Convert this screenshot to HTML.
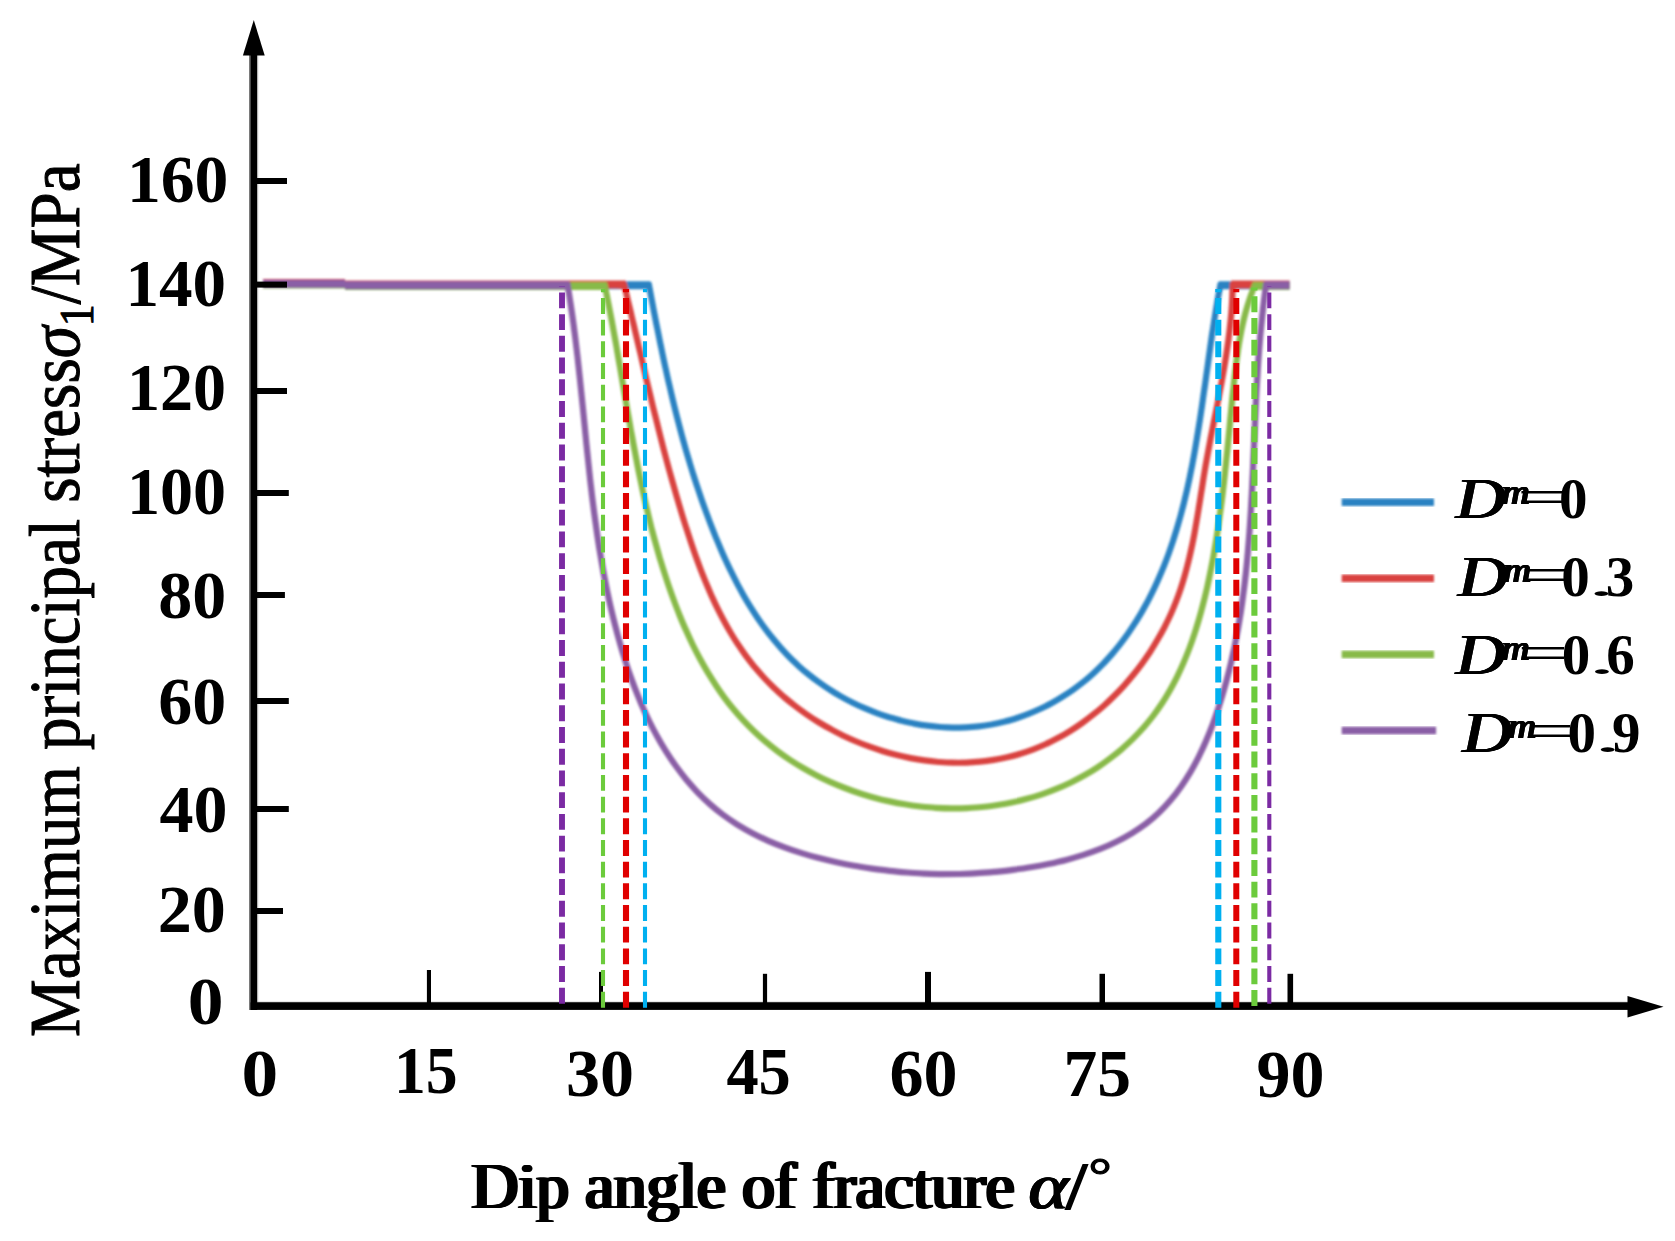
<!DOCTYPE html>
<html lang="en"><head><meta charset="utf-8"><title>Maximum principal stress vs dip angle of fracture</title>
<style>html,body{margin:0;padding:0;background:#fff}body{width:1675px;height:1241px;overflow:hidden}svg{display:block}text{font-family:"Liberation Serif",serif;fill:#000}.tk{font-weight:bold;font-size:68px}.ax{font-size:65px}.lg{font-size:57px}</style></head><body>
<svg width="1675" height="1241" viewBox="0 0 1675 1241">
<defs><filter id="soft" x="-5%" y="-5%" width="110%" height="110%"><feGaussianBlur stdDeviation="1.2"/></filter><filter id="smear" x="-10%" y="-10%" width="120%" height="120%"><feOffset in="SourceGraphic" dx="-1.4" result="a"/><feOffset in="SourceGraphic" dx="-0.7" result="b"/><feOffset in="SourceGraphic" dx="0.7" result="c"/><feOffset in="SourceGraphic" dx="1.4" result="d"/><feMerge><feMergeNode in="a"/><feMergeNode in="b"/><feMergeNode in="SourceGraphic"/><feMergeNode in="c"/><feMergeNode in="d"/></feMerge></filter><filter id="smear2" x="-5%" y="-10%" width="110%" height="120%"><feOffset in="SourceGraphic" dx="-1.9" result="a"/><feOffset in="SourceGraphic" dx="-0.95" result="b"/><feOffset in="SourceGraphic" dx="0.95" result="c"/><feOffset in="SourceGraphic" dx="1.9" result="d"/><feMerge><feMergeNode in="a"/><feMergeNode in="b"/><feMergeNode in="SourceGraphic"/><feMergeNode in="c"/><feMergeNode in="d"/></feMerge></filter></defs>
<rect width="1675" height="1241" fill="#fff"/>
<g fill="none" stroke-linejoin="miter" stroke-miterlimit="6" stroke-linecap="butt" filter="url(#soft)">
<path d="M263 283.7 H345 M345 285.3 H650.5 M1218.8 285.3 H1289.5" stroke="#2a82c2" stroke-width="8"/>
<path d="M643.0 285.3 L649.0 285.3 C649.4 287.4 650.6 293.8 651.4 298.1 C652.2 302.3 653.0 306.6 653.8 310.8 C654.7 315.1 655.5 319.3 656.3 323.6 C657.2 327.8 658.0 332.1 658.9 336.3 C659.7 340.5 660.6 344.8 661.5 349.0 C662.3 353.2 663.2 357.4 664.1 361.6 C665.0 365.9 666.0 370.1 666.9 374.3 C667.8 378.5 668.8 382.7 669.8 386.9 C670.7 391.1 671.7 395.3 672.7 399.5 C673.7 403.7 674.7 407.9 675.8 412.1 C676.8 416.2 677.9 420.4 679.0 424.6 C680.1 428.8 681.2 432.9 682.3 437.1 C683.5 441.3 684.6 445.4 685.8 449.6 C687.0 453.7 688.2 457.9 689.5 462.0 C690.7 466.2 692.0 470.3 693.3 474.5 C694.6 478.6 695.9 482.7 697.3 486.8 C698.7 491.0 700.1 495.1 701.5 499.2 C702.9 503.3 704.4 507.4 705.9 511.5 C707.4 515.6 708.9 519.7 710.5 523.8 C712.1 527.9 713.7 532.0 715.3 536.1 C717.0 540.1 718.7 544.2 720.4 548.2 C722.1 552.3 723.9 556.3 725.7 560.3 C727.6 564.3 729.4 568.2 731.4 572.2 C733.3 576.1 735.3 580.0 737.3 583.9 C739.4 587.8 741.5 591.6 743.6 595.4 C745.8 599.2 748.0 602.9 750.3 606.6 C752.6 610.3 754.9 613.9 757.3 617.5 C759.8 621.1 762.2 624.6 764.8 628.1 C767.3 631.6 770.0 635.0 772.7 638.3 C775.4 641.7 778.2 644.9 781.0 648.1 C783.9 651.3 786.8 654.5 789.8 657.5 C792.9 660.6 796.0 663.5 799.1 666.4 C802.3 669.3 805.6 672.1 809.0 674.8 C812.3 677.5 815.8 680.1 819.3 682.6 C822.8 685.2 826.4 687.6 830.1 689.9 C833.7 692.3 837.5 694.5 841.2 696.6 C845.0 698.8 848.9 700.8 852.8 702.7 C856.7 704.7 860.6 706.5 864.6 708.2 C868.6 709.9 872.7 711.6 876.8 713.1 C880.8 714.6 885.0 716.0 889.1 717.3 C893.3 718.5 897.5 719.7 901.7 720.8 C905.9 721.8 910.1 722.8 914.4 723.6 C918.6 724.4 922.9 725.1 927.2 725.6 C931.5 726.2 935.8 726.7 940.1 727.0 C944.4 727.3 948.7 727.5 953.0 727.6 C957.3 727.6 961.6 727.5 965.9 727.3 C970.2 727.1 974.4 726.8 978.7 726.3 C982.9 725.8 987.2 725.2 991.4 724.5 C995.6 723.7 999.8 722.8 1004.0 721.8 C1008.1 720.7 1012.3 719.6 1016.4 718.2 C1020.4 716.9 1024.5 715.5 1028.5 713.9 C1032.5 712.3 1036.5 710.6 1040.4 708.8 C1044.3 707.0 1048.1 705.0 1051.9 703.0 C1055.7 700.9 1059.4 698.7 1063.0 696.4 C1066.7 694.1 1070.3 691.7 1073.8 689.2 C1077.3 686.7 1080.7 684.1 1084.1 681.4 C1087.4 678.7 1090.7 675.8 1093.8 672.9 C1097.0 670.0 1100.1 667.0 1103.1 663.9 C1106.0 660.8 1109.0 657.6 1111.8 654.4 C1114.6 651.1 1117.3 647.8 1120.0 644.4 C1122.6 641.0 1125.2 637.5 1127.7 634.0 C1130.2 630.4 1132.6 626.8 1134.9 623.2 C1137.3 619.5 1139.5 615.8 1141.7 612.1 C1143.8 608.3 1145.9 604.5 1148.0 600.7 C1150.0 596.9 1151.9 593.0 1153.8 589.1 C1155.7 585.2 1157.5 581.3 1159.2 577.3 C1160.9 573.4 1162.6 569.4 1164.2 565.4 C1165.8 561.3 1167.3 557.3 1168.8 553.2 C1170.2 549.2 1171.6 545.1 1173.0 541.0 C1174.3 536.8 1175.6 532.7 1176.9 528.5 C1178.1 524.4 1179.3 520.2 1180.5 516.0 C1181.6 511.8 1182.7 507.6 1183.8 503.4 C1184.8 499.2 1185.8 494.9 1186.8 490.7 C1187.8 486.4 1188.7 482.1 1189.6 477.9 C1190.5 473.6 1191.3 469.3 1192.2 465.0 C1193.0 460.7 1193.8 456.4 1194.6 452.0 C1195.3 447.7 1196.1 443.4 1196.8 439.1 C1197.5 434.8 1198.2 430.4 1198.9 426.1 C1199.6 421.8 1200.3 417.4 1200.9 413.1 C1201.6 408.7 1202.2 404.4 1202.8 400.1 C1203.4 395.7 1204.0 391.4 1204.7 387.1 C1205.3 382.8 1205.9 378.4 1206.5 374.1 C1207.1 369.8 1207.7 365.5 1208.3 361.2 C1208.9 356.9 1209.5 352.6 1210.1 348.3 C1210.7 344.1 1211.3 339.8 1211.9 335.5 C1212.6 331.3 1213.2 327.0 1213.9 322.8 C1214.5 318.6 1215.2 314.4 1215.9 310.2 C1216.6 306.0 1217.3 301.8 1218.0 297.7 C1218.8 293.5 1219.9 287.4 1220.3 285.3 L1226.3 285.3" stroke="#2a82c2" stroke-width="6.2"/>
<path d="M263 283.0 H345 M345 284.6 H625.8 M1231.2 284.6 H1289.5" stroke="#d94340" stroke-width="8"/>
<path d="M618.3 285.3 L624.3 285.3 C624.9 287.6 626.5 294.5 627.6 299.1 C628.7 303.6 629.8 308.2 630.9 312.8 C631.9 317.4 633.0 321.9 634.1 326.5 C635.1 331.1 636.2 335.6 637.3 340.2 C638.3 344.7 639.4 349.3 640.5 353.8 C641.5 358.3 642.6 362.9 643.6 367.4 C644.7 371.9 645.8 376.5 646.8 381.0 C647.9 385.5 649.0 390.1 650.1 394.6 C651.2 399.1 652.2 403.6 653.3 408.1 C654.4 412.6 655.6 417.1 656.7 421.6 C657.8 426.2 658.9 430.7 660.1 435.2 C661.2 439.7 662.4 444.2 663.5 448.7 C664.7 453.2 665.9 457.7 667.1 462.2 C668.3 466.7 669.5 471.2 670.8 475.6 C672.0 480.1 673.3 484.6 674.6 489.1 C675.8 493.6 677.2 498.1 678.5 502.6 C679.8 507.1 681.2 511.6 682.5 516.1 C683.9 520.6 685.3 525.1 686.8 529.6 C688.2 534.0 689.7 538.5 691.2 543.0 C692.7 547.5 694.2 551.9 695.8 556.4 C697.4 560.8 699.0 565.2 700.7 569.6 C702.4 574.0 704.2 578.4 706.0 582.8 C707.8 587.1 709.6 591.4 711.5 595.7 C713.5 600.0 715.4 604.2 717.5 608.4 C719.6 612.6 721.7 616.7 723.9 620.8 C726.1 624.9 728.4 629.0 730.8 633.0 C733.1 636.9 735.6 640.9 738.2 644.7 C740.7 648.6 743.4 652.4 746.1 656.1 C748.9 659.8 751.7 663.5 754.6 667.1 C757.6 670.6 760.7 674.1 763.8 677.5 C767.0 681.0 770.3 684.3 773.6 687.5 C777.0 690.8 780.5 693.9 784.0 697.0 C787.6 700.0 791.3 703.0 795.0 705.9 C798.7 708.8 802.5 711.5 806.4 714.2 C810.3 716.9 814.3 719.5 818.3 722.0 C822.4 724.5 826.5 726.9 830.7 729.1 C834.8 731.4 839.1 733.6 843.3 735.7 C847.6 737.7 852.0 739.7 856.3 741.5 C860.7 743.4 865.1 745.1 869.6 746.7 C874.1 748.3 878.6 749.8 883.1 751.2 C887.6 752.6 892.2 753.9 896.8 755.0 C901.4 756.2 906.0 757.2 910.6 758.1 C915.2 759.0 919.8 759.8 924.5 760.4 C929.1 761.1 933.8 761.6 938.4 762.0 C943.1 762.3 947.7 762.6 952.4 762.7 C957.0 762.8 961.6 762.8 966.3 762.6 C970.9 762.5 975.5 762.2 980.1 761.7 C984.6 761.3 989.2 760.7 993.7 759.9 C998.2 759.2 1002.7 758.3 1007.2 757.3 C1011.6 756.3 1016.1 755.1 1020.4 753.7 C1024.8 752.4 1029.1 750.9 1033.4 749.3 C1037.7 747.7 1041.9 745.9 1046.1 744.0 C1050.2 742.0 1054.4 740.0 1058.4 737.8 C1062.5 735.6 1066.5 733.3 1070.4 730.8 C1074.3 728.4 1078.2 725.8 1082.0 723.1 C1085.8 720.4 1089.5 717.6 1093.1 714.7 C1096.8 711.8 1100.4 708.8 1103.9 705.7 C1107.4 702.6 1110.8 699.3 1114.1 696.0 C1117.5 692.7 1120.7 689.3 1123.9 685.8 C1127.0 682.3 1130.1 678.7 1133.1 675.0 C1136.1 671.4 1139.0 667.6 1141.8 663.8 C1144.6 660.0 1147.3 656.1 1149.9 652.2 C1152.5 648.2 1155.0 644.2 1157.3 640.1 C1159.7 636.0 1162.0 631.9 1164.2 627.7 C1166.3 623.5 1168.4 619.3 1170.4 615.0 C1172.3 610.8 1174.1 606.4 1175.8 602.1 C1177.5 597.7 1179.1 593.4 1180.6 588.9 C1182.1 584.5 1183.4 580.1 1184.7 575.6 C1186.0 571.1 1187.2 566.6 1188.3 562.1 C1189.4 557.6 1190.4 553.1 1191.4 548.5 C1192.4 544.0 1193.3 539.4 1194.2 534.8 C1195.0 530.2 1195.8 525.6 1196.6 521.0 C1197.4 516.4 1198.2 511.8 1198.9 507.1 C1199.7 502.5 1200.4 497.9 1201.1 493.3 C1201.9 488.6 1202.6 484.0 1203.3 479.4 C1204.1 474.7 1204.8 470.1 1205.6 465.5 C1206.4 460.9 1207.3 456.3 1208.1 451.7 C1209.0 447.1 1209.9 442.5 1210.7 437.9 C1211.6 433.3 1212.5 428.7 1213.4 424.1 C1214.3 419.5 1215.3 414.9 1216.2 410.4 C1217.1 405.8 1218.0 401.2 1218.9 396.6 C1219.7 392.0 1220.6 387.4 1221.5 382.8 C1222.3 378.2 1223.1 373.7 1223.9 369.1 C1224.7 364.5 1225.5 359.8 1226.2 355.2 C1226.9 350.6 1227.6 346.0 1228.2 341.4 C1228.8 336.7 1229.4 332.1 1229.9 327.5 C1230.4 322.8 1230.9 318.2 1231.3 313.5 C1231.7 308.8 1232.0 304.1 1232.2 299.4 C1232.5 294.7 1232.6 287.7 1232.7 285.3 L1238.7 285.3" stroke="#d94340" stroke-width="6.2"/>
<path d="M263 284.5 H345 M345 286.1 H606.2 M1253.2 286.1 H1289.5" stroke="#88ba48" stroke-width="8"/>
<path d="M598.7 285.3 L604.7 285.3 C605.2 287.8 606.8 295.5 607.8 300.5 C608.8 305.6 609.8 310.7 610.8 315.8 C611.8 320.8 612.7 325.9 613.6 331.0 C614.5 336.0 615.5 341.1 616.4 346.2 C617.2 351.2 618.1 356.3 619.0 361.4 C619.9 366.4 620.8 371.5 621.6 376.5 C622.5 381.6 623.3 386.7 624.2 391.7 C625.1 396.8 625.9 401.8 626.8 406.9 C627.7 411.9 628.6 417.0 629.5 422.0 C630.3 427.0 631.2 432.1 632.2 437.1 C633.1 442.1 634.0 447.2 635.0 452.2 C635.9 457.2 636.9 462.2 637.9 467.3 C638.9 472.3 639.9 477.3 641.0 482.3 C642.0 487.3 643.1 492.3 644.2 497.3 C645.3 502.3 646.5 507.3 647.7 512.3 C648.8 517.3 650.1 522.3 651.3 527.3 C652.6 532.2 653.9 537.2 655.3 542.2 C656.7 547.2 658.1 552.1 659.5 557.1 C661.0 562.0 662.5 567.0 664.1 571.9 C665.7 576.9 667.3 581.8 669.0 586.8 C670.7 591.7 672.4 596.6 674.3 601.5 C676.1 606.4 678.0 611.2 679.9 616.0 C681.9 620.9 683.9 625.7 686.1 630.4 C688.2 635.1 690.4 639.9 692.6 644.5 C694.9 649.2 697.3 653.8 699.7 658.3 C702.2 662.8 704.7 667.3 707.3 671.7 C710.0 676.1 712.7 680.5 715.5 684.7 C718.3 689.0 721.2 693.2 724.2 697.3 C727.2 701.4 730.4 705.4 733.6 709.3 C736.8 713.2 740.1 717.0 743.6 720.7 C747.0 724.4 750.6 728.0 754.3 731.5 C757.9 735.0 761.7 738.4 765.6 741.7 C769.5 745.0 773.5 748.1 777.6 751.2 C781.7 754.2 785.8 757.1 790.1 760.0 C794.4 762.8 798.7 765.5 803.1 768.0 C807.6 770.6 812.1 773.1 816.7 775.4 C821.2 777.8 825.9 780.0 830.6 782.1 C835.3 784.2 840.1 786.2 844.9 788.0 C849.7 789.9 854.6 791.6 859.5 793.2 C864.5 794.9 869.4 796.3 874.4 797.7 C879.5 799.1 884.5 800.3 889.6 801.4 C894.7 802.5 899.8 803.5 904.9 804.3 C910.0 805.2 915.2 805.9 920.3 806.5 C925.5 807.0 930.7 807.5 935.8 807.8 C941.0 808.1 946.2 808.3 951.4 808.3 C956.5 808.4 961.7 808.3 966.9 808.1 C972.1 807.8 977.2 807.5 982.3 807.0 C987.5 806.5 992.6 805.8 997.7 805.0 C1002.8 804.3 1007.8 803.3 1012.8 802.3 C1017.9 801.2 1022.9 800.0 1027.8 798.6 C1032.7 797.3 1037.6 795.8 1042.5 794.1 C1047.3 792.5 1052.1 790.7 1056.9 788.7 C1061.6 786.8 1066.3 784.7 1070.9 782.5 C1075.5 780.2 1080.0 777.8 1084.5 775.3 C1088.9 772.8 1093.3 770.1 1097.6 767.3 C1101.9 764.5 1106.1 761.5 1110.1 758.4 C1114.2 755.3 1118.2 752.1 1122.1 748.8 C1125.9 745.4 1129.7 742.0 1133.3 738.4 C1136.9 734.8 1140.4 731.1 1143.8 727.3 C1147.1 723.4 1150.4 719.5 1153.4 715.5 C1156.5 711.4 1159.4 707.2 1162.2 703.0 C1165.0 698.8 1167.6 694.4 1170.1 690.0 C1172.7 685.5 1175.0 681.0 1177.3 676.4 C1179.5 671.8 1181.7 667.1 1183.7 662.4 C1185.7 657.7 1187.6 652.9 1189.5 648.0 C1191.3 643.2 1193.0 638.3 1194.6 633.4 C1196.2 628.4 1197.8 623.4 1199.2 618.4 C1200.7 613.4 1202.0 608.4 1203.3 603.3 C1204.6 598.3 1205.8 593.2 1207.0 588.1 C1208.1 583.0 1209.2 577.9 1210.2 572.8 C1211.3 567.7 1212.2 562.7 1213.2 557.6 C1214.1 552.5 1215.0 547.4 1215.8 542.3 C1216.6 537.2 1217.4 532.1 1218.2 527.0 C1218.9 521.9 1219.6 516.8 1220.3 511.7 C1221.0 506.6 1221.6 501.6 1222.3 496.5 C1222.9 491.4 1223.5 486.3 1224.1 481.2 C1224.6 476.1 1225.2 471.0 1225.7 465.9 C1226.2 460.8 1226.8 455.7 1227.3 450.6 C1227.8 445.4 1228.3 440.3 1228.8 435.2 C1229.3 430.1 1229.8 425.0 1230.2 419.9 C1230.7 414.8 1231.2 409.7 1231.7 404.6 C1232.2 399.5 1232.7 394.4 1233.3 389.2 C1233.8 384.1 1234.3 379.0 1234.9 373.9 C1235.5 368.8 1236.1 363.7 1236.8 358.6 C1237.5 353.6 1238.2 348.5 1239.0 343.5 C1239.9 338.5 1240.8 333.5 1241.8 328.5 C1242.8 323.6 1243.9 318.6 1245.2 313.8 C1246.5 308.9 1247.9 304.1 1249.5 299.4 C1251.1 294.6 1253.8 287.6 1254.7 285.3 L1260.7 285.3" stroke="#88ba48" stroke-width="6.2"/>
<path d="M263 283.7 H345 M345 285.3 H569.2 M1264.5 285.3 H1289.5" stroke="#8a5fa6" stroke-width="8"/>
<path d="M561.7 285.3 L567.7 285.3 C568.2 288.3 569.6 297.3 570.5 303.3 C571.4 309.2 572.3 315.2 573.1 321.1 C573.9 327.0 574.6 333.0 575.4 338.8 C576.1 344.7 576.8 350.6 577.5 356.5 C578.1 362.4 578.8 368.2 579.4 374.1 C580.0 379.9 580.6 385.7 581.2 391.5 C581.8 397.4 582.4 403.2 583.0 409.0 C583.6 414.8 584.1 420.6 584.7 426.3 C585.3 432.1 585.8 437.9 586.4 443.7 C587.0 449.5 587.6 455.2 588.2 461.0 C588.8 466.8 589.4 472.6 590.0 478.3 C590.7 484.1 591.4 489.9 592.0 495.6 C592.7 501.4 593.5 507.2 594.2 513.0 C595.0 518.7 595.8 524.5 596.6 530.3 C597.4 536.1 598.3 541.9 599.2 547.7 C600.2 553.5 601.2 559.3 602.2 565.1 C603.2 571.0 604.3 576.8 605.5 582.6 C606.6 588.5 607.8 594.3 609.1 600.2 C610.4 606.1 611.8 612.0 613.2 617.8 C614.7 623.7 616.2 629.6 617.8 635.5 C619.4 641.3 621.1 647.2 622.8 653.0 C624.6 658.8 626.5 664.6 628.4 670.3 C630.4 676.1 632.5 681.8 634.6 687.4 C636.8 693.1 639.1 698.7 641.4 704.2 C643.8 709.7 646.3 715.1 648.9 720.5 C651.5 725.8 654.2 731.1 657.1 736.2 C659.9 741.4 662.9 746.4 666.0 751.4 C669.1 756.3 672.3 761.1 675.7 765.8 C679.1 770.5 682.6 775.1 686.2 779.5 C689.9 783.9 693.7 788.2 697.6 792.3 C701.6 796.4 705.6 800.3 709.9 804.1 C714.2 807.9 718.6 811.5 723.1 814.9 C727.7 818.3 732.4 821.5 737.3 824.6 C742.2 827.6 747.2 830.5 752.4 833.2 C757.5 835.9 762.8 838.4 768.2 840.8 C773.6 843.1 779.1 845.3 784.6 847.4 C790.2 849.5 795.9 851.4 801.6 853.1 C807.3 854.9 813.1 856.6 818.9 858.1 C824.7 859.6 830.6 861.0 836.5 862.2 C842.4 863.5 848.3 864.7 854.2 865.7 C860.1 866.8 866.0 867.7 871.9 868.6 C877.8 869.4 883.7 870.2 889.6 870.8 C895.4 871.5 901.3 872.0 907.2 872.5 C913.0 873.0 918.9 873.3 924.7 873.6 C930.6 873.8 936.4 874.0 942.3 874.1 C948.1 874.1 953.9 874.1 959.8 874.0 C965.7 873.8 971.5 873.6 977.4 873.2 C983.3 872.9 989.1 872.4 995.0 871.9 C1000.9 871.3 1006.8 870.7 1012.8 869.9 C1018.7 869.1 1024.6 868.3 1030.6 867.3 C1036.5 866.3 1042.5 865.2 1048.4 864.0 C1054.4 862.7 1060.3 861.4 1066.1 859.9 C1072.0 858.4 1077.8 856.7 1083.5 854.9 C1089.2 853.0 1094.8 851.0 1100.3 848.9 C1105.8 846.7 1111.2 844.3 1116.4 841.7 C1121.7 839.2 1126.8 836.4 1131.7 833.4 C1136.6 830.4 1141.3 827.2 1145.9 823.8 C1150.4 820.3 1154.7 816.6 1158.8 812.7 C1162.9 808.8 1166.8 804.7 1170.5 800.3 C1174.2 796.0 1177.7 791.4 1181.0 786.7 C1184.3 782.0 1187.4 777.1 1190.4 772.1 C1193.4 767.1 1196.1 761.9 1198.8 756.6 C1201.4 751.3 1203.9 745.9 1206.2 740.5 C1208.6 735.0 1210.8 729.4 1212.9 723.8 C1215.0 718.2 1216.9 712.5 1218.8 706.9 C1220.6 701.2 1222.4 695.5 1224.0 689.7 C1225.7 684.0 1227.2 678.3 1228.6 672.5 C1230.1 666.8 1231.5 661.0 1232.7 655.2 C1234.0 649.5 1235.2 643.7 1236.3 637.9 C1237.4 632.1 1238.5 626.3 1239.4 620.5 C1240.4 614.7 1241.3 608.8 1242.1 603.0 C1242.9 597.2 1243.7 591.3 1244.4 585.5 C1245.1 579.6 1245.8 573.8 1246.4 567.9 C1247.0 562.0 1247.5 556.2 1248.0 550.3 C1248.5 544.4 1249.0 538.5 1249.4 532.6 C1249.9 526.7 1250.2 520.8 1250.6 514.9 C1251.0 509.0 1251.3 503.1 1251.6 497.2 C1252.0 491.3 1252.2 485.4 1252.5 479.5 C1252.8 473.6 1253.1 467.7 1253.3 461.8 C1253.6 455.9 1253.8 450.0 1254.1 444.1 C1254.4 438.2 1254.6 432.2 1254.9 426.3 C1255.1 420.4 1255.4 414.5 1255.7 408.6 C1255.9 402.7 1256.2 396.8 1256.5 390.9 C1256.9 385.0 1257.2 379.1 1257.6 373.2 C1257.9 367.3 1258.3 361.4 1258.7 355.6 C1259.2 349.7 1259.6 343.8 1260.1 337.9 C1260.6 332.1 1261.2 326.2 1261.8 320.3 C1262.4 314.5 1263.0 308.6 1263.7 302.8 C1264.4 297.0 1265.6 288.2 1266.0 285.3 L1272.0 285.3" stroke="#8a5fa6" stroke-width="6.2"/>
</g>
<g fill="#000">
<rect x="249" y="55" width="2" height="955" fill="#7a7a7a"/><rect x="257" y="55" width="1.5" height="948" fill="#e2e2e2"/>
<rect x="257" y="1001.8" width="1372" height="1.2" fill="#8a8a8a"/>
<rect x="250.6" y="50" width="6.6" height="960"/>
<rect x="250.6" y="1002.4" width="1380" height="7.5"/>
<polygon points="253.8,20 242.9,55.6 264.7,55.6"/>
<polygon points="1663.5,1006.7 1627.5,995.9 1627.5,1017.6"/>
<rect x="256" y="178.0" width="31.0" height="6"/>
<rect x="256" y="281.6" width="31.0" height="6"/>
<rect x="256" y="388.0" width="31.0" height="6"/>
<rect x="256" y="490.0" width="32.8" height="6"/>
<rect x="256" y="592.0" width="28.9" height="6"/>
<rect x="256" y="698.0" width="32.8" height="6"/>
<rect x="256" y="806.0" width="32.8" height="6"/>
<rect x="256" y="908.0" width="27.0" height="6"/>
<rect x="426.9" y="970.0" width="4.1" height="34.0"/>
<rect x="599.0" y="971.9" width="4.0" height="32.1"/>
<rect x="762.9" y="973.8" width="4.2" height="30.2"/>
<rect x="925.0" y="971.9" width="6.0" height="32.1"/>
<rect x="1099.5" y="973.8" width="5.5" height="30.2"/>
<rect x="1287.5" y="973.8" width="5.6" height="30.2"/>
</g>
<line x1="562.0" y1="286.0" x2="562.0" y2="1003.7" stroke="#7b2aa3" stroke-width="5.9" stroke-dasharray="15.9 5.83" stroke-dashoffset="15.33"/>
<line x1="603.0" y1="289.0" x2="603.0" y2="1007.7" stroke="#6ccb3c" stroke-width="4.1" stroke-dasharray="15.9 5.78" stroke-dashoffset="12.68"/>
<line x1="626.0" y1="289.0" x2="626.0" y2="1007.7" stroke="#e00000" stroke-width="6.1" stroke-dasharray="15.9 5.78" stroke-dashoffset="12.68"/>
<line x1="645.0" y1="289.0" x2="645.0" y2="1007.7" stroke="#00b0f0" stroke-width="4.1" stroke-dasharray="15.9 5.78" stroke-dashoffset="12.68"/>
<line x1="1218.3" y1="289.0" x2="1218.3" y2="1007.7" stroke="#00b0f0" stroke-width="6.1" stroke-dasharray="15.9 5.78" stroke-dashoffset="12.68"/>
<line x1="1236.3" y1="289.0" x2="1236.3" y2="1007.7" stroke="#e00000" stroke-width="6.0" stroke-dasharray="15.9 5.78" stroke-dashoffset="12.68"/>
<line x1="1254.4" y1="287.5" x2="1254.4" y2="1005.9" stroke="#6ccb3c" stroke-width="6.1" stroke-dasharray="15.9 5.78" stroke-dashoffset="12.88"/>
<line x1="1269.3" y1="286.0" x2="1269.3" y2="1003.7" stroke="#7b2aa3" stroke-width="4.1" stroke-dasharray="15.9 5.83" stroke-dashoffset="15.33"/>
<text class="tk" text-anchor="middle" transform="translate(177.65 201.80) scale(0.9958 1)">160</text>
<text class="tk" text-anchor="middle" transform="translate(175.73 305.90) scale(0.9872 1)">140</text>
<text class="tk" text-anchor="middle" transform="translate(176.46 409.70) scale(0.9724 1)">120</text>
<text class="tk" text-anchor="middle" transform="translate(176.46 513.90) scale(0.9724 1)">100</text>
<text class="tk" text-anchor="middle" transform="translate(192.26 617.70) scale(1.0000 1)">80</text>
<text class="tk" text-anchor="middle" transform="translate(192.26 723.90) scale(1.0000 1)">60</text>
<text class="tk" text-anchor="middle" transform="translate(193.61 831.80) scale(1.0000 1)">40</text>
<text class="tk" text-anchor="middle" transform="translate(191.81 931.90) scale(1.0019 1)">20</text>
<text class="tk" text-anchor="middle" transform="translate(205.53 1023.75) scale(1.0517 1)">0</text>
<text class="tk" text-anchor="middle" transform="translate(259.90 1095.90) scale(1.0793 1)">0</text>
<text class="tk" text-anchor="middle" transform="translate(425.73 1092.60) scale(0.9367 1)">15</text>
<text class="tk" text-anchor="middle" transform="translate(600.08 1095.90) scale(1.0003 1)">30</text>
<text class="tk" text-anchor="middle" transform="translate(758.61 1093.60) scale(0.9472 1)">45</text>
<text class="tk" text-anchor="middle" transform="translate(923.52 1095.90) scale(1.0000 1)">60</text>
<text class="tk" text-anchor="middle" transform="translate(1097.26 1095.90) scale(0.9938 1)">75</text>
<text class="tk" text-anchor="middle" transform="translate(1290.56 1096.75) scale(1.0000 1)">90</text>
<text class="ax" id="xt" x="471.5" y="1207.6" textLength="543" lengthAdjust="spacing" filter="url(#smear2)">Dip angle of fracture</text>
<text class="ax" x="1028.5" y="1207.6" font-style="italic" textLength="40" lengthAdjust="spacingAndGlyphs" filter="url(#smear)">α</text>
<text class="ax" x="1066" y="1207.6" stroke="#000" stroke-width="2" textLength="21" lengthAdjust="spacingAndGlyphs">/</text>
<text font-size="50" transform="translate(1088.4 1192.2) scale(1.16 0.95)" stroke="#000" stroke-width="1.3">°</text>
<g transform="translate(78.6 1037) rotate(-90) scale(1 1.12)"><text class="ax" id="yt" x="0" y="0" stroke="#000" stroke-width="0.9">Maximum principal stress<tspan font-style="italic">σ</tspan><tspan font-size="44" dy="13">1</tspan><tspan dy="-13">/MPa</tspan></text></g>
<rect x="1341.7" y="498.4" width="92.3" height="7.6" fill="#2a82c2" filter="url(#soft)"/>
<text class="lg" x="1456.1" y="517.8" font-style="italic" textLength="49" lengthAdjust="spacingAndGlyphs" filter="url(#smear)">D</text>
<text x="1501.5" y="504.0" font-size="35" font-style="italic" textLength="28" lengthAdjust="spacingAndGlyphs" filter="url(#smear)">m</text>
<text x="1517.1" y="513.0" font-size="48" textLength="50.1" lengthAdjust="spacingAndGlyphs">=</text>
<text class="lg" x="1559.1" y="517.8" font-weight="bold">0</text>
<rect x="1341.7" y="574.5" width="92.3" height="7.6" fill="#d94340" filter="url(#soft)"/>
<text class="lg" x="1458.3" y="595.8" font-style="italic" textLength="49" lengthAdjust="spacingAndGlyphs" filter="url(#smear)">D</text>
<text x="1503.0" y="582.0" font-size="35" font-style="italic" textLength="28" lengthAdjust="spacingAndGlyphs" filter="url(#smear)">m</text>
<text x="1520.3" y="591.0" font-size="48" textLength="49.0" lengthAdjust="spacingAndGlyphs">=</text>
<text class="lg" x="1561.2" y="595.8" font-weight="bold">0</text>
<text class="lg" font-weight="bold" transform="translate(1590.7 595.8) scale(1.5 0.5)">.</text>
<text class="lg" x="1605.7" y="595.8" font-weight="bold">3</text>
<rect x="1341.7" y="650.6" width="92.3" height="7.6" fill="#88ba48" filter="url(#soft)"/>
<text class="lg" x="1456.1" y="673.7" font-style="italic" textLength="49" lengthAdjust="spacingAndGlyphs" filter="url(#smear)">D</text>
<text x="1501.5" y="659.9" font-size="35" font-style="italic" textLength="28" lengthAdjust="spacingAndGlyphs" filter="url(#smear)">m</text>
<text x="1517.2" y="668.9" font-size="48" textLength="51.3" lengthAdjust="spacingAndGlyphs">=</text>
<text class="lg" x="1561.8" y="673.7" font-weight="bold">0</text>
<text class="lg" font-weight="bold" transform="translate(1591.3 673.7) scale(1.5 0.5)">.</text>
<text class="lg" x="1606.3" y="673.7" font-weight="bold">6</text>
<rect x="1341.7" y="726.7" width="94.4" height="7.6" fill="#8a5fa6" filter="url(#soft)"/>
<text class="lg" x="1462.5" y="751.6" font-style="italic" textLength="49" lengthAdjust="spacingAndGlyphs" filter="url(#smear)">D</text>
<text x="1508.0" y="737.9" font-size="35" font-style="italic" textLength="28" lengthAdjust="spacingAndGlyphs" filter="url(#smear)">m</text>
<text x="1525.8" y="746.9" font-size="48" textLength="48.7" lengthAdjust="spacingAndGlyphs">=</text>
<text class="lg" x="1567.5" y="751.6" font-weight="bold">0</text>
<text class="lg" font-weight="bold" transform="translate(1597.0 751.6) scale(1.5 0.5)">.</text>
<text class="lg" x="1612.0" y="751.6" font-weight="bold">9</text>
</svg></body></html>
